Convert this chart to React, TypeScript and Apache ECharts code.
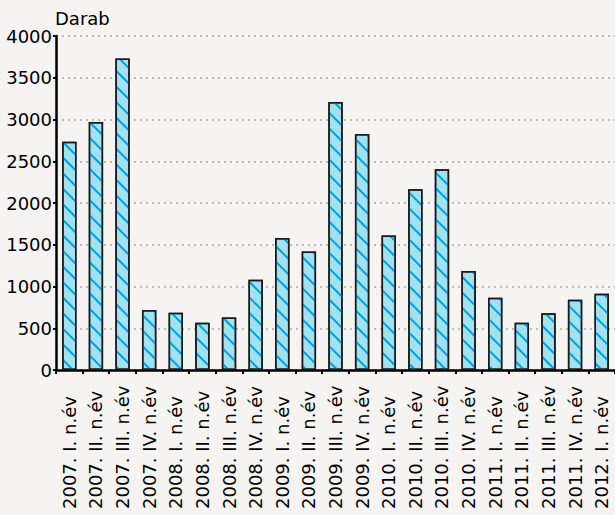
import React, { useEffect, useRef } from "react";
import * as echarts from "echarts";

const categories = [
  "2007. I. n.év", "2007. II. n.év", "2007. III. n.év", "2007. IV. n.év",
  "2008. I. n.év", "2008. II. n.év", "2008. III. n.év", "2008. IV. n.év",
  "2009. I. n.év", "2009. II. n.év", "2009. III. n.év", "2009. IV. n.év",
  "2010. I. n.év", "2010. II. n.év", "2010. III. n.év", "2010. IV. n.év",
  "2011. I. n.év", "2011. II. n.év", "2011. III. n.év", "2011. IV. n.év",
  "2012. I. n.év",
];
const values = [
  2735, 2970, 3730, 720, 685, 565, 630, 1080,
  1580, 1420, 3210, 2825, 1612, 2165, 2405, 1185,
  866, 565, 680, 842, 914,
];
const yAxisName = "Darab";

const FONT = "'DejaVu Sans', sans-serif";
const FS = 18;

export default function App() {
  const ref = useRef<HTMLDivElement>(null);
  useEffect(() => {
    if (!ref.current) return;
    const chart = echarts.init(ref.current, undefined, { renderer: "svg" });
    chart.setOption({
      animation: false,
      backgroundColor: "#f5f4f2",
      grid: { left: 56, right: 0, top: 36, bottom: 145, containLabel: false },
      xAxis: {
        type: "category",
        data: categories,
        axisLine: { lineStyle: { color: "#000", width: 2.5 } },
        axisTick: { show: true, length: 4, lineStyle: { color: "#000", width: 2 } },
        axisLabel: {
          rotate: 90,
          interval: 0,
          margin: 139,
          align: "left",
          color: "#000",
          fontSize: FS,
          fontFamily: FONT,
        },
      },
      yAxis: {
        type: "value",
        min: 0,
        max: 4000,
        interval: 500,
        name: yAxisName,
        nameLocation: "end",
        nameGap: 16,
        nameTextStyle: {
          align: "left",
          verticalAlign: "middle",
          color: "#000",
          fontSize: FS,
          fontFamily: FONT,
          padding: [0, 0, 0, -1],
        },
        axisLine: { show: true, lineStyle: { color: "#000", width: 2.5 } },
        axisTick: { show: true, length: 3, lineStyle: { color: "#000", width: 2 } },
        axisLabel: {
          margin: 4,
          color: "#000",
          fontSize: FS,
          fontFamily: FONT,
          formatter: (v: number) => String(v),
        },
        splitLine: {
          show: true,
          lineStyle: { color: "#a8a8a8", type: [2, 4], width: 1.5 },
        },
      },
      series: [
        {
          type: "bar",
          data: values,
          barWidth: "54%",
          itemStyle: {
            color: "#a0e2f4",
            borderColor: "#1a1a1a",
            borderWidth: 1.5,
            decal: {
              symbol: "rect",
              symbolSize: 1,
              color: "#00a2d8",
              dashArrayX: [1, 0],
              dashArrayY: [2, 9],
              rotation: Math.PI / 4,
            },
          },
        },
      ],
    });
    return () => chart.dispose();
  }, []);
  return (
    <div
      ref={ref}
      style={{ position: "absolute", left: 0, top: 0, width: 615, height: 515 }}
    />
  );
}
